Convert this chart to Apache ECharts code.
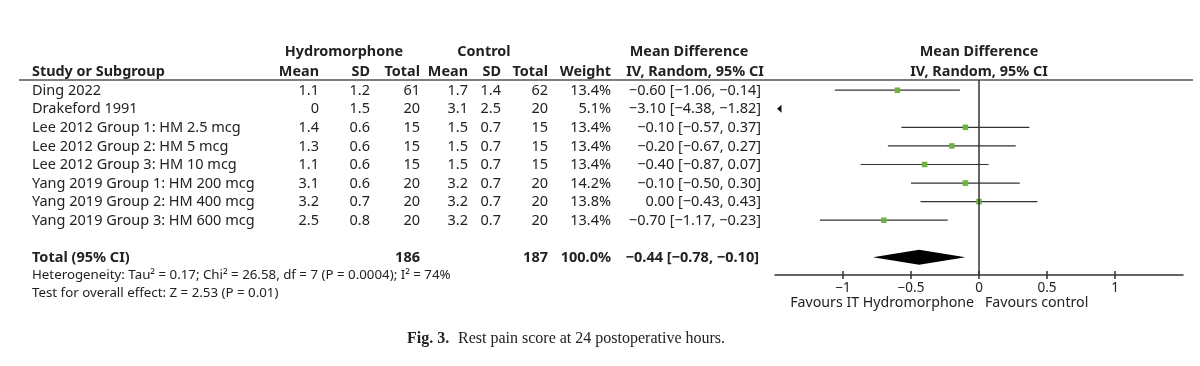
<!DOCTYPE html>
<html><head><meta charset="utf-8">
<script src="https://cdn.jsdelivr.net/npm/echarts@6/dist/echarts.min.js"></script>
<style>html,body{margin:0;padding:0;background:#fff}#c{width:1200px;height:366px}</style>
</head><body><div id="c"></div>
<script>
// ---- data ----
const studies = ['Ding 2022','Drakeford 1991','Lee 2012 Group 1: HM 2.5 mcg','Lee 2012 Group 2: HM 5 mcg','Lee 2012 Group 3: HM 10 mcg','Yang 2019 Group 1: HM 200 mcg','Yang 2019 Group 2: HM 400 mcg','Yang 2019 Group 3: HM 600 mcg'];
const hMean = [1.1, 0, 1.4, 1.3, 1.1, 3.1, 3.2, 2.5];
const hSD   = [1.2, 1.5, 0.6, 0.6, 0.6, 0.6, 0.7, 0.8];
const hN    = [61, 20, 15, 15, 15, 20, 20, 20];
const cMean = [1.7, 3.1, 1.5, 1.5, 1.5, 3.2, 3.2, 3.2];
const cSD   = [1.4, 2.5, 0.7, 0.7, 0.7, 0.7, 0.7, 0.7];
const cN    = [62, 20, 15, 15, 15, 20, 20, 20];
const weight = [13.4, 5.1, 13.4, 13.4, 13.4, 14.2, 13.8, 13.4];
const md = [-0.60, -3.10, -0.10, -0.20, -0.40, -0.10, 0.00, -0.70];
const lo = [-1.06, -4.38, -0.57, -0.67, -0.87, -0.50, -0.43, -1.17];
const hi = [-0.14, -1.82, 0.37, 0.27, 0.07, 0.30, 0.43, -0.23];
const totalLabel = 'Total (95% CI)';
const totalHN = 186, totalCN = 187, totalWeight = 100.0;
const totalMD = -0.44, totalLo = -0.78, totalHi = -0.10;
const xTicks = [-1, -0.5, 0, 0.5, 1];
const heterogeneityText = 'Heterogeneity: Tau\u00B2 = 0.17; Chi\u00B2 = 26.58, df = 7 (P = 0.0004); I\u00B2 = 74%';
const overallText = 'Test for overall effect: Z = 2.53 (P = 0.01)';
const favLeft = 'Favours IT Hydromorphone', favRight = 'Favours control';
const captionBold = 'Fig. 3.', captionText = 'Rest pain score at 24 postoperative hours.';

// ---- layout / style ----
const FONT = '"Noto Sans", "DejaVu Sans", sans-serif';
const FS = 14.5;
const TXT = '#222';
const XMIN = -1.5, XMAX = 1.5;
const YMIN = -0.55, YMAX = 9.95;
const totalRow = 9;
const col = {study: 32, hMean: 319, hSD: 370, hN: 420, cMean: 468, cSD: 501, cN: 548, w: 611, ci: 761};

function fmt(v, d) { const s = Math.abs(v).toFixed(d); return (v < 0 && Number(s) !== 0 ? '\u2212' : '') + s; }
function ciText(m, l, h) { return fmt(m, 2) + ' [' + fmt(l, 2) + ', ' + fmt(h, 2) + ']'; }

function txt(t, x, y, align, bold, size, family) {
  return { type: 'text', silent: true, style: { text: t, x: x, y: y, align: align, textAlign: align, verticalAlign: 'middle', textVerticalAlign: 'middle',
    font: (bold ? 'bold ' : '') + (size || FS) + 'px ' + (family || FONT), fill: TXT } };
}

const tableData = studies.map((s, i) => [0, i]).concat([[0, totalRow]]);

function tableItem(params, api) {
  const i = params.dataIndex;
  const y = api.coord([0, api.value(1)])[1] + 0.5;
  let cells;
  if (i < studies.length) {
    cells = [
      txt(studies[i], col.study, y, 'left'),
      txt(String(hMean[i]), col.hMean, y, 'right'),
      txt(hSD[i].toFixed(1), col.hSD, y, 'right'),
      txt(String(hN[i]), col.hN, y, 'right'),
      txt(cMean[i].toFixed(1), col.cMean, y, 'right'),
      txt(cSD[i].toFixed(1), col.cSD, y, 'right'),
      txt(String(cN[i]), col.cN, y, 'right'),
      txt(weight[i].toFixed(1) + '%', col.w, y, 'right'),
      txt(ciText(md[i], lo[i], hi[i]), col.ci, y, 'right')
    ];
  } else {
    cells = [
      txt(totalLabel, col.study, y, 'left', true),
      txt(String(totalHN), col.hN, y, 'right', true),
      txt(String(totalCN), col.cN, y, 'right', true),
      txt(totalWeight.toFixed(1) + '%', col.w, y, 'right', true),
      txt(ciText(totalMD, totalLo, totalHi), col.ci - 2, y, 'right', true)
    ];
  }
  return { type: 'group', children: cells };
}

const forestData = studies.map((s, i) => [md[i], i, lo[i], hi[i], weight[i]]);

function forestItem(params, api) {
  const m = api.value(0), row = api.value(1), l = api.value(2), h = api.value(3), w = api.value(4);
  const children = [];
  const y = api.coord([0, row])[1];
  if (h < XMIN) {
    const xe = api.coord([XMIN, row])[0] + 2;
    children.push({ type: 'polygon', shape: { points: [[xe, y], [xe + 4.5, y - 4], [xe + 4.5, y + 4]] }, style: { fill: '#111' } });
  } else {
    const x1 = api.coord([Math.max(l, XMIN), row])[0];
    const x2 = api.coord([Math.min(h, XMAX), row])[0];
    children.push({ type: 'line', shape: { x1: x1, y1: y, x2: x2, y2: y }, style: { stroke: '#333', lineWidth: 1.2 } });
    const sz = 5.5 * Math.sqrt(w / 13.4);
    const xm = api.coord([m, row])[0];
    children.push({ type: 'rect', shape: { x: xm - sz / 2, y: y - sz / 2, width: sz, height: sz }, style: { fill: '#6db33f' } });
  }
  return { type: 'group', children: children };
}

function diamondItem(params, api) {
  const row = api.value(1);
  const c = api.coord([api.value(0), row]);
  const a = api.coord([api.value(2), row]);
  const b = api.coord([api.value(3), row]);
  const hh = 7.5;
  return { type: 'polygon', shape: { points: [[a[0], c[1]], [c[0], c[1] - hh], [b[0], c[1]], [c[0], c[1] + hh]] }, style: { fill: '#000' } };
}

const chart = echarts.init(document.getElementById('c'), null, { renderer: 'canvas' });
chart.setOption({
  animation: false,
  backgroundColor: '#fff',
  grid: { left: 775, right: 17, top: 80, bottom: 91 },
  xAxis: [{
    type: 'value', min: XMIN, max: XMAX, interval: 0.5, position: 'bottom',
    axisLine: { show: true, onZero: false, lineStyle: { color: '#333', width: 1.5 } },
    axisTick: { show: true, inside: false, length: 4, customValues: xTicks, lineStyle: { color: '#333', width: 1.5 } },
    axisLabel: { show: true, customValues: xTicks, margin: 6, color: TXT, fontSize: 13.5, fontFamily: FONT,
      formatter: v => (v < 0 ? '\u2212' : '') + Math.abs(v) },
    splitLine: { show: false }
  }, {
    type: 'value', min: XMIN, max: XMAX, interval: 0.5, position: 'bottom',
    axisLine: { show: false, onZero: false },
    axisTick: { show: true, inside: true, length: 4, customValues: xTicks, lineStyle: { color: '#333', width: 1.5 } },
    axisLabel: { show: false },
    splitLine: { show: false }
  }],
  yAxis: { type: 'value', inverse: true, min: YMIN, max: YMAX, show: false, splitLine: { show: false } },
  series: [
    { type: 'line', data: [[0, YMIN], [0, YMAX]], symbol: 'none', silent: true, lineStyle: { color: '#333', width: 1.5 } },
    { type: 'custom', data: forestData, renderItem: forestItem, clip: false, silent: true },
    { type: 'custom', data: [[totalMD, totalRow, totalLo, totalHi]], renderItem: diamondItem, clip: false, silent: true },
    { type: 'custom', data: tableData, renderItem: tableItem, clip: false, silent: true }
  ],
  graphic: [
    { type: 'line', silent: true, shape: { x1: 19, y1: 80, x2: 1193, y2: 80 }, style: { stroke: '#555', lineWidth: 1.5 } },
    txt('Hydromorphone', 344, 52, 'center', true, 14.4),
    txt('Control', 484, 52, 'center', true, 14.4),
    txt('Mean Difference', 689, 52, 'center', true, 14.4),
    txt('Study or Subgroup', col.study, 72, 'left', true, 14.4),
    txt('Mean', col.hMean, 72, 'right', true, 14.4),
    txt('SD', col.hSD, 72, 'right', true, 14.4),
    txt('Total', col.hN, 72, 'right', true, 14.4),
    txt('Mean', col.cMean, 72, 'right', true, 14.4),
    txt('SD', col.cSD, 72, 'right', true, 14.4),
    txt('Total', col.cN, 72, 'right', true, 14.4),
    txt('Weight', col.w, 72, 'right', true, 14.4),
    txt('IV, Random, 95% CI', 695, 72, 'center', true, 14.4),
    txt('Mean Difference', 979, 52, 'center', true, 14.4),
    txt('IV, Random, 95% CI', 979, 72, 'center', true, 14.4),
    txt(favLeft, 974, 303, 'right', false, 14.2),
    txt(favRight, 985, 303, 'left', false, 14.2),
    txt(heterogeneityText, col.study, 275, 'left', false, 13.3),
    txt(overallText, col.study, 293, 'left', false, 13.3),
    txt(captionBold, 407, 339, 'left', true, 16, '"Liberation Serif", serif'),
    txt(captionText, 458, 339, 'left', false, 16, '"Liberation Serif", serif')
  ]
});
</script></body></html>
